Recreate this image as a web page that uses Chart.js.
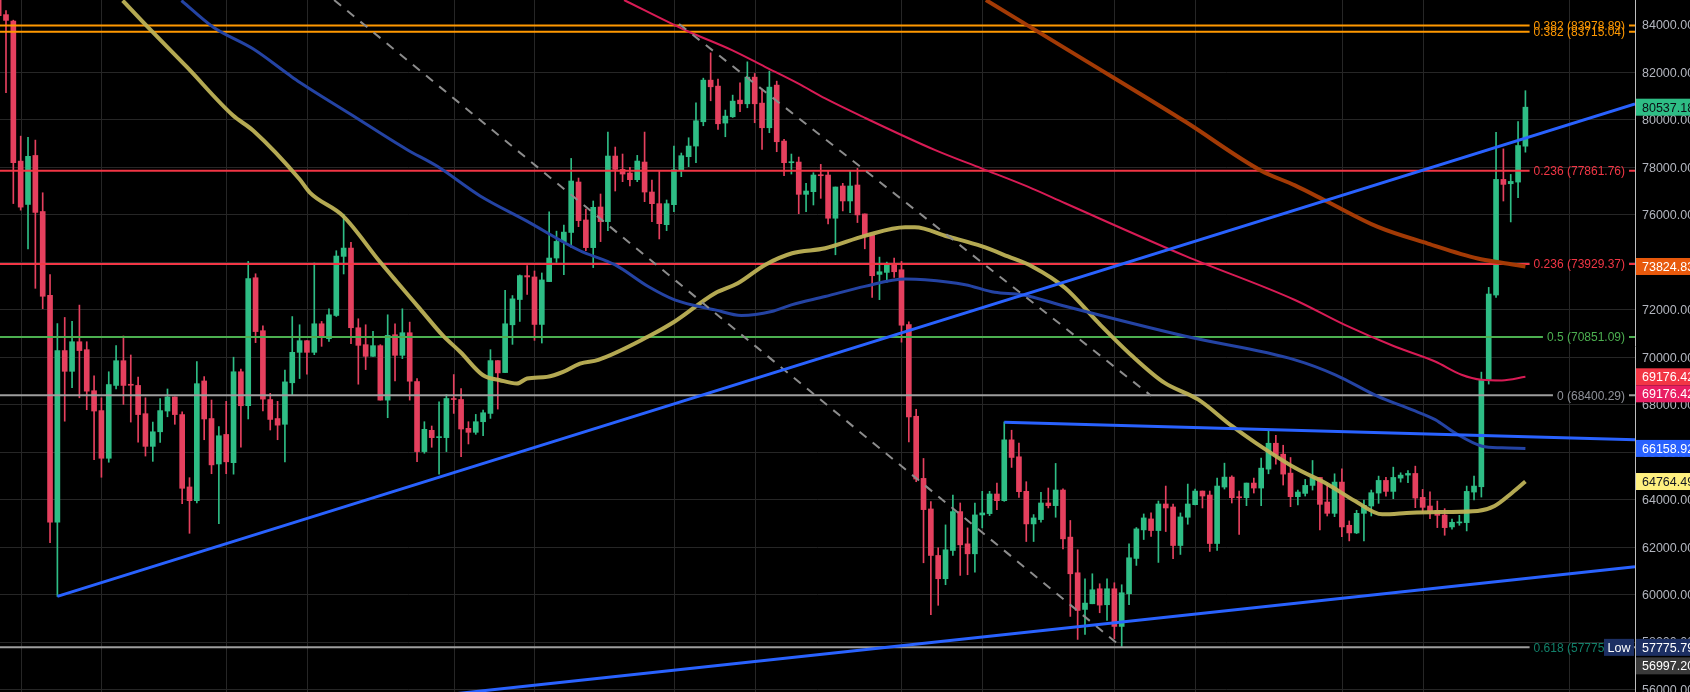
<!DOCTYPE html>
<html>
<head>
<meta charset="utf-8">
<title>BTC chart</title>
<script src="https://cdn.jsdelivr.net/npm/chart.js@4.4.1/dist/chart.umd.min.js"></script>
<style>
  html, body { margin: 0; padding: 0; background: #000; overflow: hidden; }
  canvas { display: block; }
</style>
</head>
<body>
<canvas id="chart" width="1690" height="692"></canvas>
<script>
// candles, one per bar index (0 = partly cut off at the left edge)
const opens = [
  85047, 84437, 84162, 78265, 76439, 78503, 76141, 72607, 63047, 70282,
  69408, 70654, 70319, 68590, 67752, 65744, 68813, 69855, 68832, 68813,
  67622, 66246, 66860, 67734, 68329, 67585, 64535, 63958, 69001, 67418,
  65503, 66748, 65558, 69389, 67957, 73351, 71119, 68218, 67418, 67176,
  68925, 70208, 70698, 70208, 71411, 70782, 71761, 74251, 74601, 71244,
  70530, 70040, 70488, 68194, 70950, 70082, 71034, 68977, 66025, 66921,
  66613, 66613, 68250, 68221, 67005, 66837, 67284, 67634, 69858, 69355,
  71369, 72433, 73440, 73384, 71383, 73188, 74181, 74867, 75259, 77384,
  75785, 74620, 76332, 75715, 78479, 77917, 77763, 77482, 78226, 76963,
  76472, 75588, 76430, 77875, 78451, 78900, 79924, 81677, 81425, 79868,
  80134, 80835, 80681, 81804, 80709, 79671, 81467, 79110, 78198, 78226,
  76865, 76977, 77678, 77678, 75858, 77216, 76586, 77258, 76040, 75144,
  73492, 73576, 73898, 73688, 71378, 67514, 64896, 63608, 61648, 60668,
  61858, 63496, 62138, 61718, 63356, 63412, 64238, 63958, 66520, 65806,
  64350, 62978, 63160, 63860, 63748, 64405, 62421, 60919, 59374, 59613,
  60245, 59571, 60245, 58658, 60035, 61523, 62726, 63188, 62698, 63817,
  63691, 62068, 63258, 63789, 64363, 64195, 62152, 64531, 64950, 64110,
  64083, 64699, 64489, 65286, 66377, 65916, 65118, 64125, 64264, 64600,
  64936, 63900, 63424, 64740, 62920, 62598, 63424, 63732, 64278, 64810,
  64348, 64908, 65034, 65104, 64096, 63732, 63550, 63354, 62850, 63020,
  63032, 64320, 64544, 69052, 72622, 77494, 77312, 77382, 78894
];
const highs = [
  85150, 84604, 84204, 79318, 79266, 79150, 76932, 73481, 71417, 71677,
  71510, 72198, 70654, 69222, 68292, 69389, 70487, 70896, 70096, 69166,
  68292, 67269, 68255, 68664, 68329, 67696, 64925, 69817, 69185, 68199,
  67083, 68143, 70003, 69501, 74039, 73518, 71324, 68478, 68143, 69464,
  71715, 71369, 70698, 73971, 71509, 72041, 74489, 76028, 74839, 71622,
  71369, 71090, 70530, 71789, 71411, 72041, 71481, 69103, 67284, 67103,
  68124, 68431, 69271, 68683, 67284, 67592, 67774, 70320, 69858, 72824,
  72601, 73468, 73860, 73636, 73552, 76126, 75314, 75566, 78378, 77552,
  76248, 76585, 76879, 79489, 78858, 78564, 78002, 78507, 79489, 77468,
  77861, 76627, 78900, 78605, 79250, 80723, 81761, 82828, 81719, 80415,
  81046, 81565, 82449, 81958, 81299, 82056, 81635, 79180, 78563, 78436,
  77328, 77777, 78128, 77860, 77174, 77328, 77860, 77958, 76040, 75144,
  74220, 74010, 74178, 74038, 71490, 67808, 65736, 63916, 61970, 62936,
  64196, 63860, 62810, 63860, 64350, 64350, 64700, 67276, 66926, 66380,
  64756, 63370, 64308, 64490, 65526, 64460, 63123, 61888, 60666, 60877,
  60456, 60666, 60498, 60414, 62140, 62824, 63398, 63440, 63943, 64573,
  63817, 63440, 64657, 64447, 64363, 64363, 64909, 65538, 65006, 64363,
  64699, 64909, 65748, 66923, 66713, 66293, 65776, 64405, 64852, 65650,
  64936, 64642, 65090, 65300, 63102, 63550, 63984, 64404, 64992, 64936,
  65370, 65132, 65230, 65412, 64432, 64334, 63942, 63620, 63186, 63340,
  64572, 64992, 69374, 72944, 79482, 78782, 77704, 79930, 81232
];
const lows = [
  84380, 81144, 76476, 76200, 74560, 72905, 72049, 62191, 59922, 67306,
  68720, 68292, 67790, 65688, 64944, 65577, 68664, 68013, 67269, 66418,
  65837, 65614, 66414, 67492, 67176, 63828, 62582, 63865, 66525, 65093,
  62991, 65093, 65074, 66209, 67399, 70617, 67734, 66934, 66525, 65595,
  68385, 69103, 69285, 70110, 70460, 70670, 71719, 73510, 70572, 68865,
  69481, 70040, 68194, 67452, 69005, 69943, 68194, 65605, 65955, 66207,
  65074, 66025, 67634, 65815, 66347, 66753, 66697, 67424, 67816, 69355,
  70544, 71509, 72643, 70712, 70600, 73188, 74000, 73482, 74629, 75504,
  74494, 73778, 74873, 75336, 77005, 77398, 77216, 77398, 76557, 75715,
  74985, 75336, 76136, 77609, 78030, 78198, 79755, 80807, 79601, 79292,
  80106, 80345, 80513, 79882, 78760, 79461, 78661, 77651, 77721, 76051,
  76136, 76416, 76697, 75620, 74318, 76166, 76096, 75676, 74570, 72526,
  72428, 73156, 73366, 70636, 66436, 64756, 61340, 59156, 59548, 60416,
  61648, 60808, 60836, 60948, 62810, 63328, 63580, 63930, 65358, 64098,
  62236, 62236, 63048, 63650, 63258, 61928, 59080, 58111, 58321, 59613,
  59234, 58911, 58139, 57776, 59571, 61229, 62320, 62446, 61355, 62656,
  61509, 61691, 62964, 63775, 63649, 61817, 61860, 64447, 63859, 62530,
  63747, 64279, 63747, 65090, 65496, 64615, 63705, 63775, 64152, 64404,
  62724, 63312, 63284, 62444, 62262, 62570, 62262, 63312, 63844, 64152,
  64040, 64740, 64712, 63662, 63452, 63200, 62822, 62500, 62752, 62920,
  62682, 63984, 64110, 68870, 72524, 76584, 75702, 76724, 78642
];
const closes = [
  84390, 84195, 78195, 76327, 78466, 76104, 72570, 63047, 70282, 69408,
  70654, 70282, 68571, 67734, 65744, 68850, 69855, 68813, 68820, 67585,
  66246, 66860, 67752, 68329, 67585, 64479, 63958, 68887, 67399, 65465,
  66692, 65595, 69389, 67957, 73314, 71082, 68236, 67380, 67139, 68962,
  70208, 70698, 70208, 71411, 70838, 71789, 74265, 74601, 71244, 70502,
  70040, 70488, 68194, 70922, 70082, 71034, 68991, 66025, 66963, 66613,
  66640, 68263, 68220, 66977, 66837, 67284, 67662, 69858, 69341, 71411,
  72461, 73440, 73384, 71383, 73258, 74181, 74881, 75273, 77427, 75757,
  74620, 76318, 75715, 78479, 77917, 77720, 77482, 78268, 76963, 76472,
  75630, 76472, 77903, 78493, 78900, 79966, 81677, 81397, 79839, 80162,
  80793, 80681, 81804, 80681, 79671, 81383, 79082, 78198, 78240, 76865,
  77005, 77679, 77650, 75858, 77174, 76586, 77216, 75998, 75116, 73436,
  73604, 73898, 73604, 71350, 67486, 64868, 63580, 61648, 60668, 61886,
  63496, 62096, 61718, 63356, 63440, 64238, 63958, 66520, 65778, 64336,
  62978, 63230, 63860, 63748, 64406, 62348, 60877, 59332, 59641, 60203,
  59557, 60245, 58658, 60077, 61551, 62768, 63230, 62698, 63817, 63649,
  62068, 63272, 63817, 64363, 64153, 62152, 64573, 64950, 64083, 64080,
  64699, 64489, 65328, 66377, 65874, 65076, 64125, 64321, 64600, 64936,
  63802, 63424, 64740, 62850, 62598, 63424, 63760, 64292, 64810, 64348,
  64936, 65034, 65104, 64068, 63676, 63522, 63340, 62822, 63046, 63046,
  64348, 64572, 69052, 72664, 77494, 77284, 77410, 78922, 80537.18
];

// moving averages, sampled along each curve (bar index, price)
const maYellowIdx = [16.9, 20.6, 25.6, 31.9, 34.7, 41.0, 42.4, 46.9, 52.0, 54.3, 57.4, 60.5, 62.9, 66.0, 68.3,
  70.6, 72.0, 74.7, 76.9, 79.2, 81.7, 88.5, 92.1, 97.6, 100.7, 104.4, 108.1, 112.6, 118.0, 123.5, 124.8, 129.3,
  134.0, 137.5, 140.8, 145.3, 149.9, 154.4, 158.8, 163.4, 168.0, 171.2, 176.6, 181.1, 184.8, 188.5, 192.5, 197.0,
  201.5, 203.8, 206.2, 208.0];
const maYellowVal = [85032, 83823, 82242, 80196, 79545, 77499, 76937, 75958, 74000, 73160, 72041, 70922, 70222, 69243, 69033,
  68893, 69103, 69173, 69383, 69733, 69892, 70874, 71506, 72698, 73119, 73891, 74382, 74592, 75116, 75480, 75480, 75088,
  74668, 74248, 73828, 72918, 71427, 70064, 68929, 68224, 67105, 66405, 65342, 64642, 63942, 63382, 63452, 63480,
  63522, 63732, 64292, 64764.49];
const maBlueIdx = [24.9, 29.2, 34.7, 39.7, 41.0, 47.9, 55.6, 59.7, 65.6, 71.9, 79.2, 84.0, 88.5, 92.1, 97.6, 101.2,
  105.3, 108.0, 112.6, 118.0, 123.5, 126.2, 131.7, 135.7, 139.4, 145.3, 161.7, 176.6, 182.1, 187.9, 192.5, 195.7,
  198.4, 202.1, 204.8, 208.0];
const maBlueVal = [85032, 83916, 82986, 81870, 81591, 80250, 78756, 78056, 76797, 75748, 74489, 73891, 72979, 72417, 71997, 71758,
  71926, 72207, 72558, 72988, 73296, 73268, 73058, 72736, 72638, 72148, 70883, 69892, 69262, 68352, 67792, 67372,
  66812, 66252, 66182, 66158.92];
const maPinkIdx = [85.2, 93.5, 99.9, 104.4, 108.9, 112.6, 117.6, 127.6, 133.9, 140.2, 145.3, 161.8, 176.6, 183.4, 190.2,
  195.7, 199.3, 202.0, 204.8, 208.0];
const maPinkVal = [85053, 83789, 82940, 82239, 81537, 80906, 80150, 78728, 77958, 77188, 76488, 74250, 72412, 71362, 70452,
  69822, 69262, 69052, 69024, 69176.42];
const maBrownIdx = [134.5, 147.0, 161.8, 172.0, 176.6, 181.1, 187.9, 194.7, 201.5, 204.8, 208.0];
const maBrownVal = [85053, 82700, 79900, 77861, 77242, 76542, 75492, 74792, 74162, 73980, 73824.83];

// fibonacci levels
const fibRatios = ['0.382', '0.382', '0.236', '0.236', '0.5', '0', '0.618'];
const fibPrices = [83978.89, 83715.04, 77861.76, 73929.37, 70851.09, 68400.29, 57775.79];

// drawn trend lines: [start index, start price, end index, end price]
const trendSolid = [
  [8, 59922, 222.93, 80671],
  [137, 67260, 222.93, 66528],
  [55, 55581, 222.93, 61173]
];
const trendDashed = [
  [92.7, 84042, 157, 68381],
  [45.7, 85053, 152.9, 57813]
];

// axes
const priceTicks = [56000, 58000, 60000, 62000, 64000, 66000, 68000, 70000, 72000, 74000, 76000, 78000, 80000, 82000, 84000];
const timeGridIdx = [3, 14, 31, 42, 62, 73, 92, 103, 123, 134, 152, 163, 183, 194, 214];

// price-scale markers
const markerPrices = [80537.18, 73824.83, 69176.42, 69176.42, 66158.92, 64764.49, 57775.79, 56997.20];

const upColor = '#2ebd85';
const downColor = '#e5405e';
const gridColor = '#262626';
const fibStyle = {
  '0.382': { line: '#ff9800', text: '#ff9800' },
  '0.236': { line: '#f23645', text: '#f23645' },
  '0.5': { line: '#4caf50', text: '#4caf50' },
  '0': { line: '#9e9e9e', text: '#8f9299' },
  '0.618': { line: '#9e9e9e', text: '#12806a' }
};
const markerStyle = [
  { bg: upColor, fg: '#0b0e14' },
  { bg: '#e8590c', fg: '#ffffff' },
  { bg: '#f23645', fg: '#ffffff' },
  { bg: '#e91e63', fg: '#ffffff' },
  { bg: '#2962ff', fg: '#ffffff' },
  { bg: '#fff07f', fg: '#131722' },
  { bg: '#1c2f63', fg: '#ffffff', low: true },
  { bg: '#3a3a3a', fg: '#ffffff' }
];

const X_MIN = 0.183;
const X_MAX = 222.93;

const idx = opens.map((_, i) => i);
const candleColors = idx.map(i => closes[i] >= opens[i] ? upColor : downColor);
const zip = (xs, ys) => xs.map((x, i) => ({ x: x, y: ys[i] }));
const seg = s => [{ x: s[0], y: s[1] }, { x: s[2], y: s[3] }];

const datasets = [];

datasets.push({
  type: 'bar', data: idx.map(i => ({ x: i, y: [lows[i], highs[i]] })),
  backgroundColor: candleColors, barThickness: 1, grouped: false, order: 9
});
datasets.push({
  type: 'bar', data: idx.map(i => ({ x: i, y: [opens[i], closes[i]] })),
  backgroundColor: candleColors, barThickness: 5, grouped: false, minBarLength: 1, order: 8
});

fibPrices.forEach((p, k) => {
  datasets.push({
    type: 'line', data: [{ x: X_MIN, y: p }, { x: X_MAX, y: p }],
    borderColor: fibStyle[fibRatios[k]].line, borderWidth: 2, pointRadius: 0, order: 6
  });
});

const maLine = (xs, ys, color, width) => ({
  type: 'line', data: zip(xs, ys), borderColor: color, borderWidth: width,
  pointRadius: 0, cubicInterpolationMode: 'monotone', order: 4
});
datasets.push(maLine(maPinkIdx, maPinkVal, '#d81b55', 2));
datasets.push(maLine(maBrownIdx, maBrownVal, '#a33a05', 4));
datasets.push(maLine(maBlueIdx, maBlueVal, '#2443a3', 3));
datasets.push(maLine(maYellowIdx, maYellowVal, 'rgba(190,178,86,0.95)', 4));

trendDashed.forEach(s => datasets.push({
  type: 'line', data: seg(s), borderColor: '#8c8c8c', borderWidth: 2,
  borderDash: [9, 8], pointRadius: 0, order: 2
}));
trendSolid.forEach(s => datasets.push({
  type: 'line', data: seg(s), borderColor: '#2962ff', borderWidth: 3, pointRadius: 0, order: 1
}));

const priceLabels = {
  id: 'priceLabels',
  beforeDraw(chart) {
    const ctx = chart.ctx;
    ctx.save();
    ctx.fillStyle = '#000';
    ctx.fillRect(0, 0, chart.width, chart.height);
    ctx.restore();
  },
  beforeDatasetsDraw(chart) {
    // time grid lines (vertical), at the chart's date ticks
    const ctx = chart.ctx;
    const a = chart.chartArea;
    const xs = chart.scales.x;
    ctx.save();
    ctx.strokeStyle = gridColor;
    ctx.lineWidth = 1;
    timeGridIdx.forEach(v => {
      const px = Math.round(xs.getPixelForValue(v)) + 0.5;
      ctx.beginPath();
      ctx.moveTo(px, a.top);
      ctx.lineTo(px, a.bottom);
      ctx.stroke();
    });
    ctx.restore();
  },
  afterDraw(chart) {
    const ctx = chart.ctx;
    const a = chart.chartArea;
    const ys = chart.scales.y;
    ctx.save();
    ctx.textBaseline = 'middle';

    // fib level captions sit on their lines, near the price scale
    ctx.font = '12px "Liberation Sans", Arial, sans-serif';
    ctx.textAlign = 'right';
    fibPrices.forEach((p, k) => {
      const y = ys.getPixelForValue(p);
      const txt = fibRatios[k] + ' (' + p.toFixed(2) + ')';
      const w = ctx.measureText(txt).width;
      const right = a.right - 10;
      ctx.fillStyle = '#000';
      ctx.fillRect(right - w - 4, y - 2, w + 8, 4);
      ctx.fillStyle = fibStyle[fibRatios[k]].text;
      ctx.fillText(txt, right, y + 1);
    });

    // price scale tick labels
    ctx.font = '12.5px "Liberation Sans", Arial, sans-serif';
    ctx.textAlign = 'left';
    ctx.fillStyle = '#b2b5be';
    priceTicks.forEach(v => {
      ctx.fillText(v.toFixed(2), a.right + 7, ys.getPixelForValue(v) + 1);
    });

    // coloured price markers, pushed down when they would overlap
    const order = markerPrices.map((_, k) => k).sort((m, n) => markerPrices[n] - markerPrices[m]);
    let lastBottom = -Infinity;
    const h = 17;
    order.forEach(k => {
      let yc = ys.getPixelForValue(markerPrices[k]);
      if (yc - h / 2 < lastBottom) yc = lastBottom + h / 2;
      lastBottom = yc + h / 2;
      const st = markerStyle[k];
      ctx.fillStyle = st.bg;
      ctx.fillRect(a.right + 1, yc - h / 2, chart.width - a.right, h);
      ctx.fillStyle = st.fg;
      ctx.textAlign = 'left';
      ctx.fillText(markerPrices[k].toFixed(2), a.right + 7, yc + 1);
      if (st.low) {
        ctx.fillStyle = st.bg;
        ctx.fillRect(a.right - 31, yc - h / 2, 30, h);
        ctx.fillStyle = st.fg;
        ctx.textAlign = 'center';
        ctx.fillText('Low', a.right - 16, yc + 1);
      }
    });
    ctx.restore();
  }
};

new Chart(document.getElementById('chart'), {
  type: 'bar',
  data: { datasets: datasets },
  options: {
    responsive: false,
    devicePixelRatio: 1,
    animation: false,
    events: [],
    layout: { padding: 0 },
    plugins: { legend: { display: false }, tooltip: { enabled: false } },
    scales: {
      x: {
        type: 'linear',
        min: X_MIN,
        max: X_MAX,
        offset: false,
        ticks: { display: false },
        grid: { display: false },
        border: { display: false },
        afterFit: s => { s.height = 0; }
      },
      y: {
        type: 'linear',
        position: 'right',
        min: 55895,
        max: 85054,
        ticks: { display: false },
        grid: { color: gridColor, lineWidth: 1, drawTicks: false },
        border: { display: true, color: '#bdbdbd', width: 1 },
        afterBuildTicks: s => { s.ticks = priceTicks.map(v => ({ value: v })); },
        afterFit: s => { s.width = 55; }
      }
    }
  },
  plugins: [priceLabels]
});
</script>
</body>
</html>
